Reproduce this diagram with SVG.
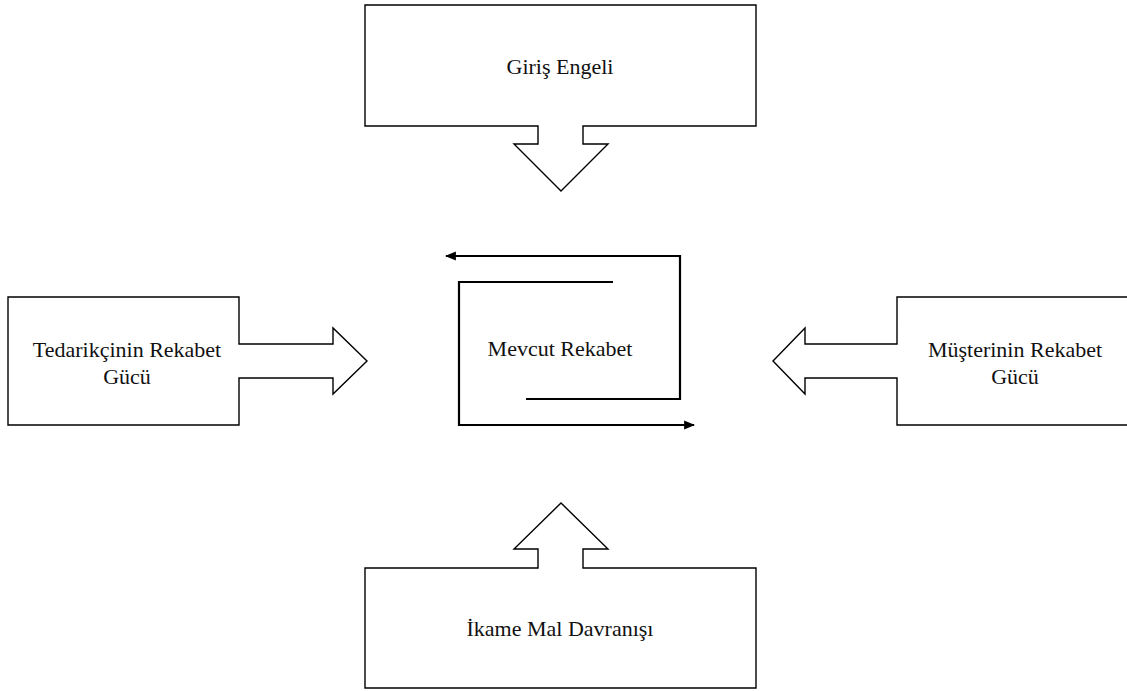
<svg xmlns="http://www.w3.org/2000/svg" width="1127" height="691" viewBox="0 0 1127 691">
<style>
.shape{fill:#fff;stroke:#000;stroke-width:1.4;stroke-linejoin:miter}
.t{font-family:"Liberation Serif","Times New Roman",serif;font-size:22px;fill:#111;text-anchor:middle}
.cyc{fill:none;stroke:#000;stroke-width:2.2}
</style>
<defs>
<marker id="ah" viewBox="0 0 10 10" refX="9" refY="5" markerWidth="5" markerHeight="5" orient="auto" markerUnits="strokeWidth">
<path d="M0,1 L10,5 L0,9 Z" fill="#000"/>
</marker>
</defs>
<rect width="1127" height="691" fill="#fff"/>
<g id="giris-engeli">
<path class="shape" d="M365,5 H756 V126 H583 V144 H608 L561,191 L514,144 H538 V126 H365 Z"/>
<text class="t" x="560" y="74">Giriş Engeli</text>
</g>
<g id="tedarikci">
<path class="shape" d="M8,297 H239 V344 H333 V328 L367,361 L333,394 V378 H239 V425 H8 Z"/>
<text class="t" x="127" y="357">Tedarikçinin Rekabet</text>
<text class="t" x="127" y="384">Gücü</text>
</g>
<g id="musteri">
<path class="shape" d="M1127,297 H897 V344 H805 V328 L773,361 L805,394 V378 H897 V425 H1127"/>
<text class="t" x="1015" y="357">Müşterinin Rekabet</text>
<text class="t" x="1015" y="384">Gücü</text>
</g>
<g id="ikame">
<path class="shape" d="M365,568 H538 V549 H514 L561,503 L608,549 H583 V568 H756 V688 H365 Z"/>
<text class="t" x="560" y="636">İkame Mal Davranışı</text>
</g>
<g id="mevcut-rekabet">
<text class="t" x="560" y="356">Mevcut Rekabet</text>
</g>
<g id="connectors">
<path class="cyc" d="M526,399 H680 V256 H446" marker-end="url(#ah)"/>
<path class="cyc" d="M613,282 H459 V425 H694" marker-end="url(#ah)"/>
</g>
</svg>
